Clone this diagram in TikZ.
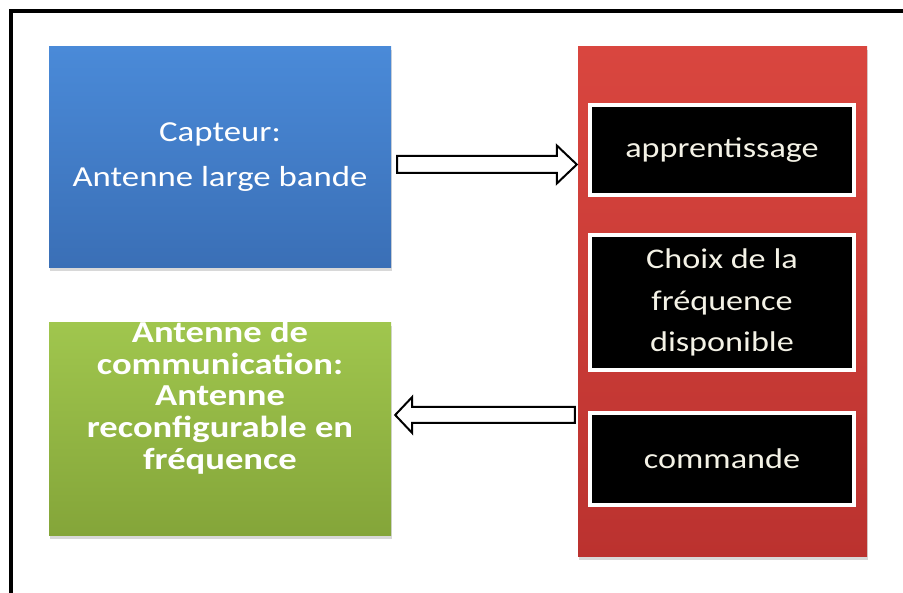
\documentclass[tikz,border=0pt]{standalone}
\usepackage{fontspec}
\setmainfont{Carlito}[FakeStretch=1.2]
\usetikzlibrary{calc,shadows}
\definecolor{bluetop}{HTML}{4A8AD8}
\definecolor{bluebot}{HTML}{3A6FB6}
\definecolor{greentop}{HTML}{A0C64E}
\definecolor{greenbot}{HTML}{84A539}
\definecolor{redtop}{HTML}{D9463F}
\definecolor{redmid}{HTML}{D03B38}
\definecolor{redbot}{HTML}{BB322F}
\definecolor{cream}{HTML}{F4F2E6}
\tikzset{
  panel/.style={rectangle, inner sep=0pt,
    drop shadow={opacity=0.3, shadow xshift=1pt, shadow yshift=-3pt}},
  bluebox/.style={panel, top color=bluetop, bottom color=bluebot,
    minimum width=342pt, minimum height=221pt, text=white, align=center,
    font=\fontsize{29}{45}\selectfont},
  greenbox/.style={panel, top color=greentop, bottom color=greenbot,
    minimum width=342pt, minimum height=213pt},
  greentxt/.style={inner sep=0pt, text=white, align=center,
    font=\bfseries\fontsize{30.5}{31.75}\selectfont},
  redbox/.style={panel, top color=redtop, middle color=redmid, bottom color=redbot,
    minimum width=289pt, minimum height=510pt},
  blackbox/.style={rectangle, inner sep=0pt, fill=black, draw=white, line width=4pt,
    minimum width=264pt, text=cream, align=center,
    font=\fontsize{28.5}{41.5}\selectfont},
  blockarrow/.style={draw=black, fill=white, line width=2pt, line join=miter},
  frameline/.style={draw=black, line width=3.8pt, line join=miter}
}
\begin{document}
\begin{tikzpicture}[x=1pt, y=1pt]
\useasboundingbox (0,0) rectangle (903,-593);
\fill[white] (0,0) rectangle (903,-593);
\draw[frameline] (11,-593) -- (11,-10.7) -- (903,-10.7);

\node[bluebox] (blue) at (220,-157.5) {Capteur:\\Antenne large bande};
\node[greenbox] (green) at (220,-429.5) {};
\node[greentxt, anchor=north] (gtxt) at ($(green.north)+(0,2)$)
  {Antenne de\\communication:\\Antenne\\reconfigurable en\\fréquence};

\node[redbox] (red) at (722.5,-302) {};
\node[blackbox, minimum height=90pt] (appr) at (722,-150) {apprentissage};
\node[blackbox, minimum height=135pt] (choix) at (722,-302.5) {Choix de la\\fréquence\\disponible};
\node[blackbox, minimum height=92pt] (cmd) at (722,-459) {commande};

% right arrow: capteur -> traitement
\path (blue.east) ++(6,-7) coordinate (ra);
\path (ra -| red.west) ++(-1,0) coordinate (rb);
\draw[blockarrow] ($(ra)+(0,8.5)$) -- ($(rb)+(-20,8.5)$) -- ($(rb)+(-20,19)$)
  -- (rb) -- ($(rb)+(-20,-19)$) -- ($(rb)+(-20,-8.5)$) -- ($(ra)+(0,-8.5)$) -- cycle;

% left arrow: traitement -> antenne de communication
\path (green.east) ++(4,14.5) coordinate (la);
\path (la -| red.west) ++(-3,0) coordinate (lb);
\draw[blockarrow] (la) -- ($(la)+(17,18)$) -- ($(la)+(17,8)$) -- ($(lb)+(0,8)$)
  -- ($(lb)+(0,-8)$) -- ($(la)+(17,-8)$) -- ($(la)+(17,-18)$) -- cycle;
\end{tikzpicture}
\end{document}
